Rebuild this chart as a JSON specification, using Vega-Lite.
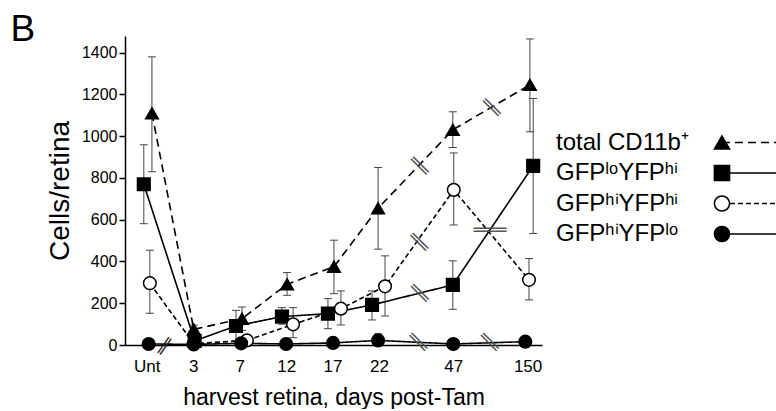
{
  "$schema": "https://vega.github.io/schema/vega-lite/v6.json",
  "padding": {"left": 10, "top": 11, "right": 0, "bottom": 0},
  "title": {"text": "B", "anchor": "start", "frame": "bounds", "fontSize": 37, "fontWeight": "normal", "font": "Liberation Sans", "color": "black", "offset": -13, "dx": -36},
  "config": {"view": {"stroke": null}, "font": "Liberation Sans"},
  "spacing": 13,
  "datasets": {
    "main": [
      {"series": "total", "x": 1.11, "v": 1110, "lo": 830, "hi": 1380},
      {"series": "total", "x": 2.01, "v": 75, "lo": 55, "hi": 95},
      {"series": "total", "x": 3.05, "v": 126, "lo": 70, "hi": 182},
      {"series": "total", "x": 4.02, "v": 291, "lo": 238, "hi": 347},
      {"series": "total", "x": 5.03, "v": 375, "lo": 246, "hi": 502},
      {"series": "total", "x": 5.98, "v": 655, "lo": 459, "hi": 850},
      {"series": "total", "x": 7.59, "v": 1031, "lo": 946, "hi": 1117},
      {"series": "total", "x": 9.25, "v": 1246, "lo": 1021, "hi": 1466},
      {"series": "lohi", "x": 0.935, "v": 770, "lo": 581, "hi": 959},
      {"series": "lohi", "x": 2.03, "v": 20, "lo": 5, "hi": 35},
      {"series": "lohi", "x": 2.92, "v": 91, "lo": 19, "hi": 166},
      {"series": "lohi", "x": 3.91, "v": 136, "lo": 100, "hi": 179},
      {"series": "lohi", "x": 4.90, "v": 150, "lo": 78, "hi": 222},
      {"series": "lohi", "x": 5.85, "v": 192, "lo": 120, "hi": 259},
      {"series": "lohi", "x": 7.59, "v": 288, "lo": 171, "hi": 403},
      {"series": "lohi", "x": 9.32, "v": 858, "lo": 534, "hi": 1181},
      {"series": "hihi", "x": 1.065, "v": 296, "lo": 152, "hi": 454},
      {"series": "hihi", "x": 2.01, "v": 6, "lo": 0, "hi": 12},
      {"series": "hihi", "x": 3.155, "v": 22, "lo": 12, "hi": 32},
      {"series": "hihi", "x": 4.15, "v": 99, "lo": 35, "hi": 179},
      {"series": "hihi", "x": 5.18, "v": 174, "lo": 96, "hi": 259},
      {"series": "hihi", "x": 6.13, "v": 281, "lo": 139, "hi": 427},
      {"series": "hihi", "x": 7.61, "v": 743, "lo": 575, "hi": 920},
      {"series": "hihi", "x": 9.23, "v": 312, "lo": 216, "hi": 414},
      {"series": "hilo", "x": 1.04, "v": 5, "lo": 0, "hi": 10},
      {"series": "hilo", "x": 2.01, "v": 3, "lo": 0, "hi": 6},
      {"series": "hilo", "x": 3.03, "v": 8, "lo": 2, "hi": 14},
      {"series": "hilo", "x": 4.0, "v": 5, "lo": 0, "hi": 10},
      {"series": "hilo", "x": 5.01, "v": 10, "lo": 3, "hi": 17},
      {"series": "hilo", "x": 5.98, "v": 22, "lo": 0, "hi": 54},
      {"series": "hilo", "x": 7.6, "v": 5, "lo": 0, "hi": 10},
      {"series": "hilo", "x": 9.15, "v": 16, "lo": 6, "hi": 26}
    ],
    "breaks": [
      {"k": "d", "x": 6.86, "v": 855},
      {"k": "d", "x": 8.41, "v": 1135},
      {"k": "d", "x": 6.85, "v": 490},
      {"k": "d", "x": 6.86, "v": 246},
      {"k": "d", "x": 6.83, "v": 11},
      {"k": "d", "x": 8.37, "v": 11},
      {"k": "h", "x": 8.39, "v": 546},
      {"k": "a", "x": 1.39, "v": -5}
    ],
    "legend": [
      {"series": "total", "label": "total CD11b⁺", "r": 1},
      {"series": "lohi", "label": "GFPˡᵒYFPʰⁱ", "r": 2},
      {"series": "hihi", "label": "GFPʰⁱYFPʰⁱ", "r": 3},
      {"series": "hilo", "label": "GFPʰⁱYFPˡᵒ", "r": 4}
    ]
  },
  "hconcat": [
    {
      "width": 417,
      "height": 309,
      "encoding": {
        "x": {
          "field": "x", "type": "quantitative",
          "scale": {"domain": [0.53, 9.51], "nice": false, "zero": false},
          "axis": {
            "values": [1, 2, 3, 4, 5, 6, 7.6, 9.2],
            "labelExpr": "datum.value == 1 ? 'Unt' : datum.value == 2 ? '3' : datum.value == 3 ? '7' : datum.value == 4 ? '12' : datum.value == 5 ? '17' : datum.value == 6 ? '22' : datum.value == 7.6 ? '47' : '150'",
            "ticks": false, "grid": false,
            "domainColor": "black", "domainWidth": 1.5,
            "labelFontSize": 17, "labelColor": "black", "labelPadding": 13,
            "title": "harvest retina, days post-Tam",
            "titleFontSize": 23, "titleFontWeight": "normal", "titleColor": "black", "titlePadding": 12
          }
        }
      },
      "layer": [
        {
          "data": {"name": "main"},
          "mark": {"type": "rule", "color": "#444", "strokeWidth": 1},
          "encoding": {
            "y": {"field": "lo", "type": "quantitative", "title": "Cells/retina"},
            "y2": {"field": "hi"}
          }
        },
        {
          "data": {"name": "main"},
          "mark": {"type": "tick", "orient": "horizontal", "size": 8, "thickness": 1, "color": "#444", "opacity": 1},
          "encoding": {
            "y": {"field": "hi", "type": "quantitative", "title": "Cells/retina"}
          }
        },
        {
          "data": {"name": "main"},
          "mark": {"type": "tick", "orient": "horizontal", "size": 8, "thickness": 1, "color": "#444", "opacity": 1},
          "encoding": {
            "y": {"field": "lo", "type": "quantitative", "title": "Cells/retina"}
          }
        },
        {
          "data": {"name": "main"},
          "mark": {"type": "line", "color": "black", "strokeWidth": 1.6},
          "encoding": {
            "y": {"field": "v", "type": "quantitative", "title": "Cells/retina"},
            "strokeDash": {
              "field": "series", "type": "nominal",
              "scale": {"domain": ["total", "lohi", "hihi", "hilo"], "range": [[8, 5], [1, 0], [5, 3], [1, 0]]},
              "legend": null
            }
          }
        },
        {
          "data": {"name": "breaks"},
          "transform": [{"filter": "datum.k == 'd'"}],
          "mark": {"type": "text", "text": "══", "font": "DejaVu Sans", "fontSize": 18, "angle": 45, "color": "#555", "align": "center", "baseline": "middle"},
          "encoding": {"y": {"field": "v", "type": "quantitative", "title": "Cells/retina"}}
        },
        {
          "data": {"name": "breaks"},
          "transform": [{"filter": "datum.k == 'h'"}],
          "mark": {"type": "text", "text": "═══", "font": "DejaVu Sans", "fontSize": 18, "angle": 0, "color": "#555", "align": "center", "baseline": "middle"},
          "encoding": {"y": {"field": "v", "type": "quantitative", "title": "Cells/retina"}}
        },
        {
          "data": {"name": "breaks"},
          "transform": [{"filter": "datum.k == 'a'"}],
          "mark": {"type": "text", "text": "══", "font": "DejaVu Sans", "fontSize": 16, "angle": -55, "color": "#222", "align": "center", "baseline": "middle"},
          "encoding": {"y": {"field": "v", "type": "quantitative", "title": "Cells/retina"}}
        },
        {
          "data": {"name": "main"},
          "mark": {"type": "point", "filled": true, "stroke": "black", "strokeWidth": 1.5, "opacity": 1, "size": 160},
          "encoding": {
            "y": {
              "field": "v", "type": "quantitative",
              "scale": {"domain": [0, 1480], "nice": false, "zero": false},
              "axis": {
                "values": [0, 200, 400, 600, 800, 1000, 1200, 1400],
                "format": "d",
                "tickSize": 6, "tickColor": "black", "tickWidth": 1.5,
                "domainColor": "black", "domainWidth": 1.5,
                "labelFontSize": 16, "labelColor": "black", "labelPadding": 2,
                "grid": false,
                "title": "Cells/retina", "titleFontSize": 28, "titleFontWeight": "normal", "titleColor": "black", "titlePadding": 7
              }
            },
            "shape": {
              "field": "series", "type": "nominal",
              "scale": {"domain": ["total", "lohi", "hihi", "hilo"], "range": ["triangle-up", "square", "circle", "circle"]},
              "legend": null
            },
            "fill": {
              "field": "series", "type": "nominal",
              "scale": {"domain": ["total", "lohi", "hihi", "hilo"], "range": ["black", "black", "white", "black"]},
              "legend": null
            }
          }
        }
      ]
    },
    {
      "width": 221,
      "height": 309,
      "data": {"name": "legend"},
      "encoding": {
        "y": {"field": "r", "type": "quantitative", "scale": {"domain": [-2.492, 7.639], "reverse": true, "nice": false, "zero": false}, "axis": null}
      },
      "layer": [
        {
          "mark": {"type": "rule", "color": "black", "strokeWidth": 1.6},
          "encoding": {
            "x": {"datum": 0.751, "type": "quantitative", "scale": {"domain": [0, 1], "nice": false, "zero": false}, "axis": null},
            "x2": {"datum": 1},
            "strokeDash": {
              "field": "series", "type": "nominal",
              "scale": {"domain": ["total", "lohi", "hihi", "hilo"], "range": [[8, 5], [1, 0], [5, 3], [1, 0]]},
              "legend": null
            }
          }
        },
        {
          "mark": {"type": "point", "filled": true, "stroke": "black", "strokeWidth": 1.5, "opacity": 1, "size": 230},
          "encoding": {
            "x": {"datum": 0.751, "type": "quantitative"},
            "shape": {
              "field": "series", "type": "nominal",
              "scale": {"domain": ["total", "lohi", "hihi", "hilo"], "range": ["triangle-up", "square", "circle", "circle"]},
              "legend": null
            },
            "fill": {
              "field": "series", "type": "nominal",
              "scale": {"domain": ["total", "lohi", "hihi", "hilo"], "range": ["black", "black", "white", "black"]},
              "legend": null
            }
          }
        },
        {
          "mark": {"type": "text", "align": "left", "baseline": "middle", "fontSize": 24, "color": "black"},
          "encoding": {
            "x": {"datum": 0, "type": "quantitative"},
            "text": {"field": "label"}
          }
        }
      ]
    }
  ]
}
